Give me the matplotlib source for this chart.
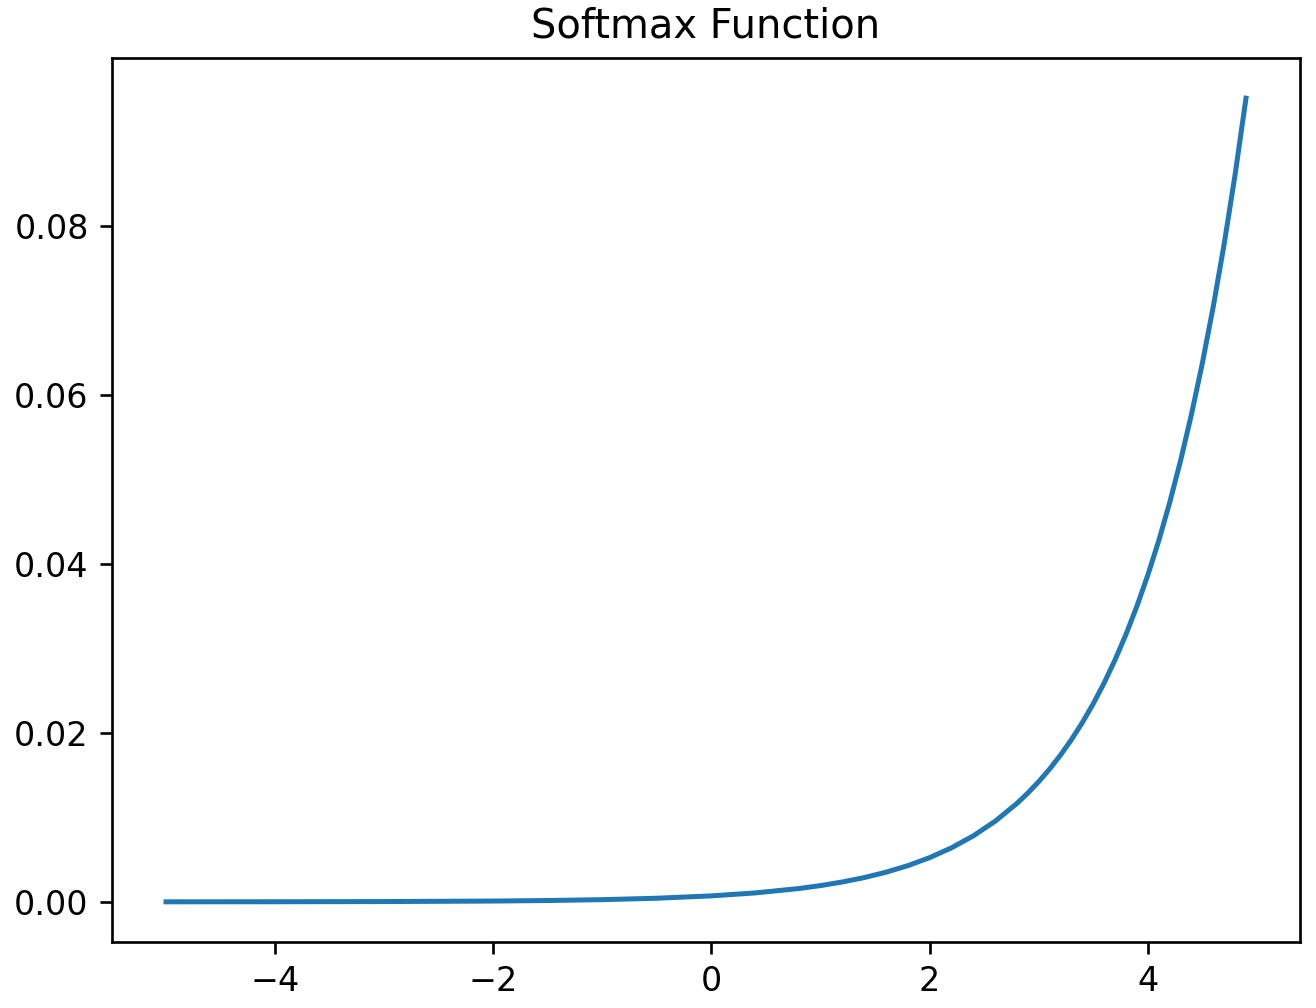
import numpy as np
import matplotlib
matplotlib.use('Agg')
import matplotlib.pyplot as plt

# values
x_vals = [-5.0, -4.0, -3.0, -2.0, -1.5, -1.0, -0.5, 0.0, 0.4, 0.8, 1.0, 1.2,
          1.4, 1.6, 1.8, 2.0, 2.2, 2.4, 2.6, 2.8, 2.9, 3.0, 3.1, 3.2, 3.3,
          3.4, 3.5, 3.6, 3.7, 3.8, 3.9, 4.0, 4.1, 4.2, 4.3, 4.4, 4.5, 4.6,
          4.7, 4.8, 4.9]
y_vals = [0.0000048, 0.0000130, 0.0000353, 0.0000959, 0.000158, 0.000261,
          0.000430, 0.000709, 0.001057, 0.001577, 0.001926, 0.002353,
          0.002874, 0.003510, 0.004287, 0.005236, 0.006396, 0.007812,
          0.009541, 0.011654, 0.012879, 0.014234, 0.015731, 0.017386,
          0.019214, 0.021234, 0.023467, 0.025936, 0.028664, 0.031678,
          0.035010, 0.038692, 0.042761, 0.047258, 0.052229, 0.057722,
          0.063792, 0.070501, 0.077917, 0.086110, 0.095166]

fig, ax = plt.subplots(figsize=(1316 / 240, 1008 / 240), dpi=240)
fig.subplots_adjust(left=112 / 1316, right=1300 / 1316,
                    top=1 - 58 / 1008, bottom=1 - 942 / 1008)
ax.plot(x_vals, y_vals)
ax.set_title('Softmax Function')
plt.savefig('out.png', dpi=240)
